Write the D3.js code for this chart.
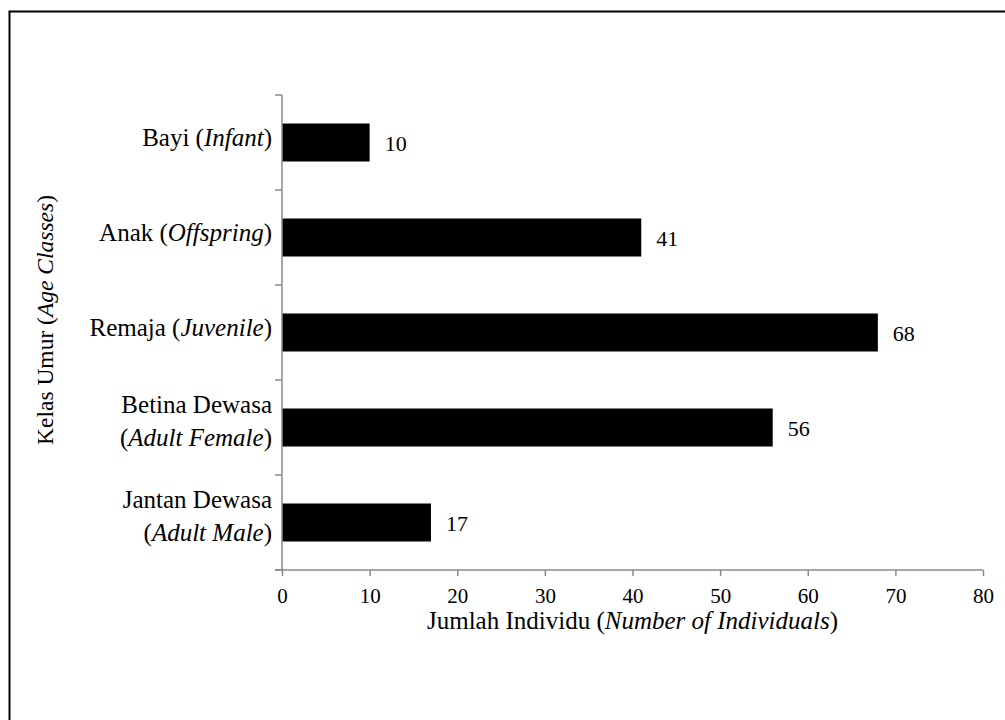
<!DOCTYPE html>
<html>
<head>
<meta charset="utf-8">
<script src="https://cdn.jsdelivr.net/npm/d3@7"></script>
<style>
  html, body { margin: 0; padding: 0; background: #fff; }
  svg { display: block; }
</style>
</head>
<body>
<svg id="chart" width="1005" height="720"></svg>
<script>
// Age classes (top to bottom), local name and English gloss
const categories = ["Bayi", "Anak", "Remaja", "Betina Dewasa", "Jantan Dewasa"];
const categoriesEn = ["Infant", "Offspring", "Juvenile", "Adult Female", "Adult Male"];
// Number of individuals per class
const values = [10, 41, 68, 56, 17];
// X axis ticks
const xTicks = [0, 10, 20, 30, 40, 50, 60, 70, 80];

const FONT = "'Liberation Serif', 'Times New Roman', Times, serif";
const axisColor = "#8a8a8a";
const svg = d3.select("#chart").attr("font-family", FONT);

svg.append("rect").attr("x", 0).attr("y", 0).attr("width", 1005).attr("height", 720).attr("fill", "#fff");
// Outer frame
svg.append("rect")
  .attr("x", 9.5).attr("y", 11.5).attr("width", 1010).attr("height", 720)
  .attr("fill", "none").attr("stroke", "#000").attr("stroke-width", 2);

const x = d3.scaleLinear().domain([0, 80]).range([282, 983]);
const y = d3.scaleBand().domain(categories).range([95, 570]).paddingInner(0.6).paddingOuter(0.3);

const data = categories.map((c, i) => ({ name: c, en: categoriesEn[i], value: values[i] }));

// Bars
svg.append("g").selectAll("rect").data(data).join("rect")
  .attr("x", x(0))
  .attr("y", d => y(d.name))
  .attr("width", d => x(d.value) - x(0))
  .attr("height", y.bandwidth())
  .attr("fill", "#000");

// Value labels
svg.append("g").selectAll("text").data(data).join("text")
  .attr("font-family", FONT)
  .attr("x", d => x(d.value) + 15)
  .attr("y", d => y(d.name) + y.bandwidth() / 2 + 8)
  .attr("font-size", 22)
  .attr("fill", "#000")
  .text(d => d.value);

// X axis
const xAxis = svg.append("g")
  .attr("transform", `translate(0,${y.range()[1]})`)
  .call(d3.axisBottom(x).tickValues(xTicks).tickSize(6).tickPadding(8).tickSizeOuter(0));
xAxis.attr("font-family", FONT);
xAxis.select(".domain").attr("stroke", axisColor).attr("stroke-width", 1.5)
  .attr("d", `M${x(0) - 7},0H${x(80)}`);
xAxis.selectAll(".tick line").attr("stroke", axisColor).attr("stroke-width", 1.5);
xAxis.selectAll(".tick text")
  .attr("font-family", FONT)
  .attr("font-size", 21).attr("fill", "#000").attr("dy", "0.9em");

// Y axis line and boundary ticks between classes
const yAxis = svg.append("g");
const y0 = y.range()[0], y1 = y.range()[1];
yAxis.append("line")
  .attr("x1", x(0)).attr("x2", x(0)).attr("y1", y0).attr("y2", y1)
  .attr("stroke", axisColor).attr("stroke-width", 1.5);
const bounds = d3.range(categories.length + 1).map(i => y0 + i * y.step());
yAxis.selectAll("line.tick").data(bounds).join("line")
  .attr("class", "tick")
  .attr("x1", x(0) - 7).attr("x2", x(0)).attr("y1", d => d).attr("y2", d => d)
  .attr("stroke", axisColor).attr("stroke-width", 1.5);

// Category labels: single words on one line, two-word names wrap the gloss below
const labels = svg.append("g").attr("text-anchor", "end").attr("font-size", 25).attr("font-family", FONT);
function addLabel(px, py, prefix, gloss) {
  const t = labels.append("text").attr("x", px).attr("y", py).attr("font-family", FONT).attr("fill", "#000");
  t.append("tspan").attr("font-family", FONT).text(prefix + "(");
  t.append("tspan").attr("font-family", FONT).attr("font-style", "italic").text(gloss);
  t.append("tspan").attr("font-family", FONT).text(")");
  return t;
}
data.forEach(d => {
  const cy = y(d.name) + y.bandwidth() / 2;
  const lx = x(0) - 10;
  if (d.name.includes(" ")) {
    labels.append("text").attr("x", lx).attr("y", cy - 14.5)
      .attr("font-family", FONT).attr("fill", "#000").text(d.name);
    addLabel(lx, cy + 18.5, "", d.en);
  } else {
    addLabel(lx, cy + 3, d.name + " ", d.en);
  }
});

// X axis title
const xt = svg.append("text")
  .attr("x", (x.range()[0] + x.range()[1]) / 2).attr("y", 629)
  .attr("text-anchor", "middle").attr("font-size", 25).attr("font-family", FONT);
xt.append("tspan").attr("font-family", FONT).text("Jumlah Individu (");
xt.append("tspan").attr("font-family", FONT).attr("font-style", "italic").text("Number of Individuals");
xt.append("tspan").attr("font-family", FONT).text(")");

// Y axis title
const yt = svg.append("text")
  .attr("transform", "translate(53,320) rotate(-90)")
  .attr("text-anchor", "middle").attr("font-size", 23.5).attr("font-family", FONT);
yt.append("tspan").attr("font-family", FONT).text("Kelas Umur (");
yt.append("tspan").attr("font-family", FONT).attr("font-style", "italic").text("Age Classes");
yt.append("tspan").attr("font-family", FONT).text(")");
</script>
</body>
</html>
